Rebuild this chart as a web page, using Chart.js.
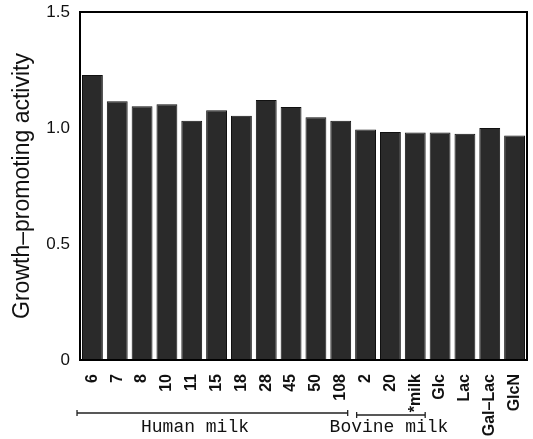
<!DOCTYPE html>
<html>
<head>
<meta charset="utf-8">
<script src="https://cdn.jsdelivr.net/npm/chart.js@4"></script>
<style>
  html, body { margin: 0; padding: 0; background: #fff; }
  #wrap { width: 533px; height: 439px; }
</style>
</head>
<body>
<div id="wrap"><canvas id="chart" width="533" height="439"></canvas></div>
<script>
const categories = ["6", "7", "8", "10", "11", "15", "18", "28", "45", "50", "108",
  "2", "20", "*milk", "Glc", "Lac", "Gal–Lac", "GlcN"];
const activity = [1.228, 1.115, 1.094, 1.102, 1.031, 1.076, 1.053, 1.121, 1.091, 1.046, 1.031,
  0.993, 0.983, 0.981, 0.981, 0.975, 1.0, 0.968];
const yTicks = [0, 0.5, 1.0, 1.5];
const groups = [
  { label: "Human milk", from: 0, to: 10 },
  { label: "Bovine milk", from: 11, to: 13 }
];

// frame round the plot and the group brackets under the labels
const extras = {
  id: "extras",
  afterDraw(chart) {
    const ctx = chart.ctx;
    const a = chart.chartArea;
    const x = chart.scales.x;
    ctx.save();
    ctx.strokeStyle = "#000";
    ctx.lineWidth = 2;
    ctx.strokeRect(a.left, a.top, a.right - a.left, a.bottom - a.top);

    const step = x.getPixelForValue(1) - x.getPixelForValue(0);
    ctx.lineWidth = 1.3;
    ctx.strokeStyle = "#222";
    ctx.fillStyle = "#111";
    ctx.font = "18px 'Liberation Mono', monospace";
    ctx.textAlign = "center";
    ctx.textBaseline = "middle";
    const spec = [
      { l: -0.62, r: 0.28, y: 413, tx: 195 },
      { l: -0.36, r: 0.4, y: 415, tx: 389 }
    ];
    groups.forEach((g, i) => {
      const s = spec[i];
      const x0 = x.getPixelForValue(g.from) + s.l * step;
      const x1 = x.getPixelForValue(g.to) + s.r * step;
      ctx.beginPath();
      ctx.moveTo(x0, s.y); ctx.lineTo(x1, s.y);
      ctx.moveTo(x0, s.y - 3); ctx.lineTo(x0, s.y + 3);
      ctx.moveTo(x1, s.y - 3); ctx.lineTo(x1, s.y + 3);
      ctx.stroke();
      ctx.fillText(g.label, s.tx, 427);
    });
    ctx.restore();
  }
};

new Chart(document.getElementById("chart"), {
  type: "bar",
  data: {
    labels: categories,
    datasets: [{
      data: activity,
      backgroundColor: "#2a2a2a",
      borderColor: "#111",
      borderWidth: 1,
      barPercentage: 0.84,
      categoryPercentage: 1.0
    }]
  },
  options: {
    responsive: false,
    animation: false,
    layout: { padding: { top: 12, right: 6, left: 0, bottom: 0 } },
    plugins: { legend: { display: false }, tooltip: { enabled: false } },
    scales: {
      x: {
        grid: { display: false, drawTicks: false },
        border: { display: false },
        ticks: {
          minRotation: 90, maxRotation: 90, padding: 14, autoSkip: false,
          color: "#111",
          font: { family: "'Liberation Sans', Arial, sans-serif", size: 16, weight: "bold" }
        },
        afterFit(s) {
          s.height = 79;
          s.paddingLeft = 0;
          s.paddingRight = 0;
        }
      },
      y: {
        min: 0, max: 1.5,
        grid: { display: false, drawTicks: false },
        border: { display: false },
        afterBuildTicks(s) { s.ticks = yTicks.map(v => ({ value: v })); },
        ticks: {
          padding: 10,
          color: "#111",
          font: { family: "'Liberation Sans', Arial, sans-serif", size: 17 },
          callback: v => v === 0 ? "0" : v.toFixed(1)
        },
        title: {
          display: true,
          text: "Growth–promoting activity",
          color: "#111",
          padding: { top: 9, bottom: 4 },
          font: { family: "'Liberation Sans', Arial, sans-serif", size: 23 }
        },
        afterFit(s) {
          s.width = 80;
          s.paddingTop = 0;
          s.paddingBottom = 0;
        }
      }
    }
  },
  plugins: [extras]
});
</script>
</body>
</html>
